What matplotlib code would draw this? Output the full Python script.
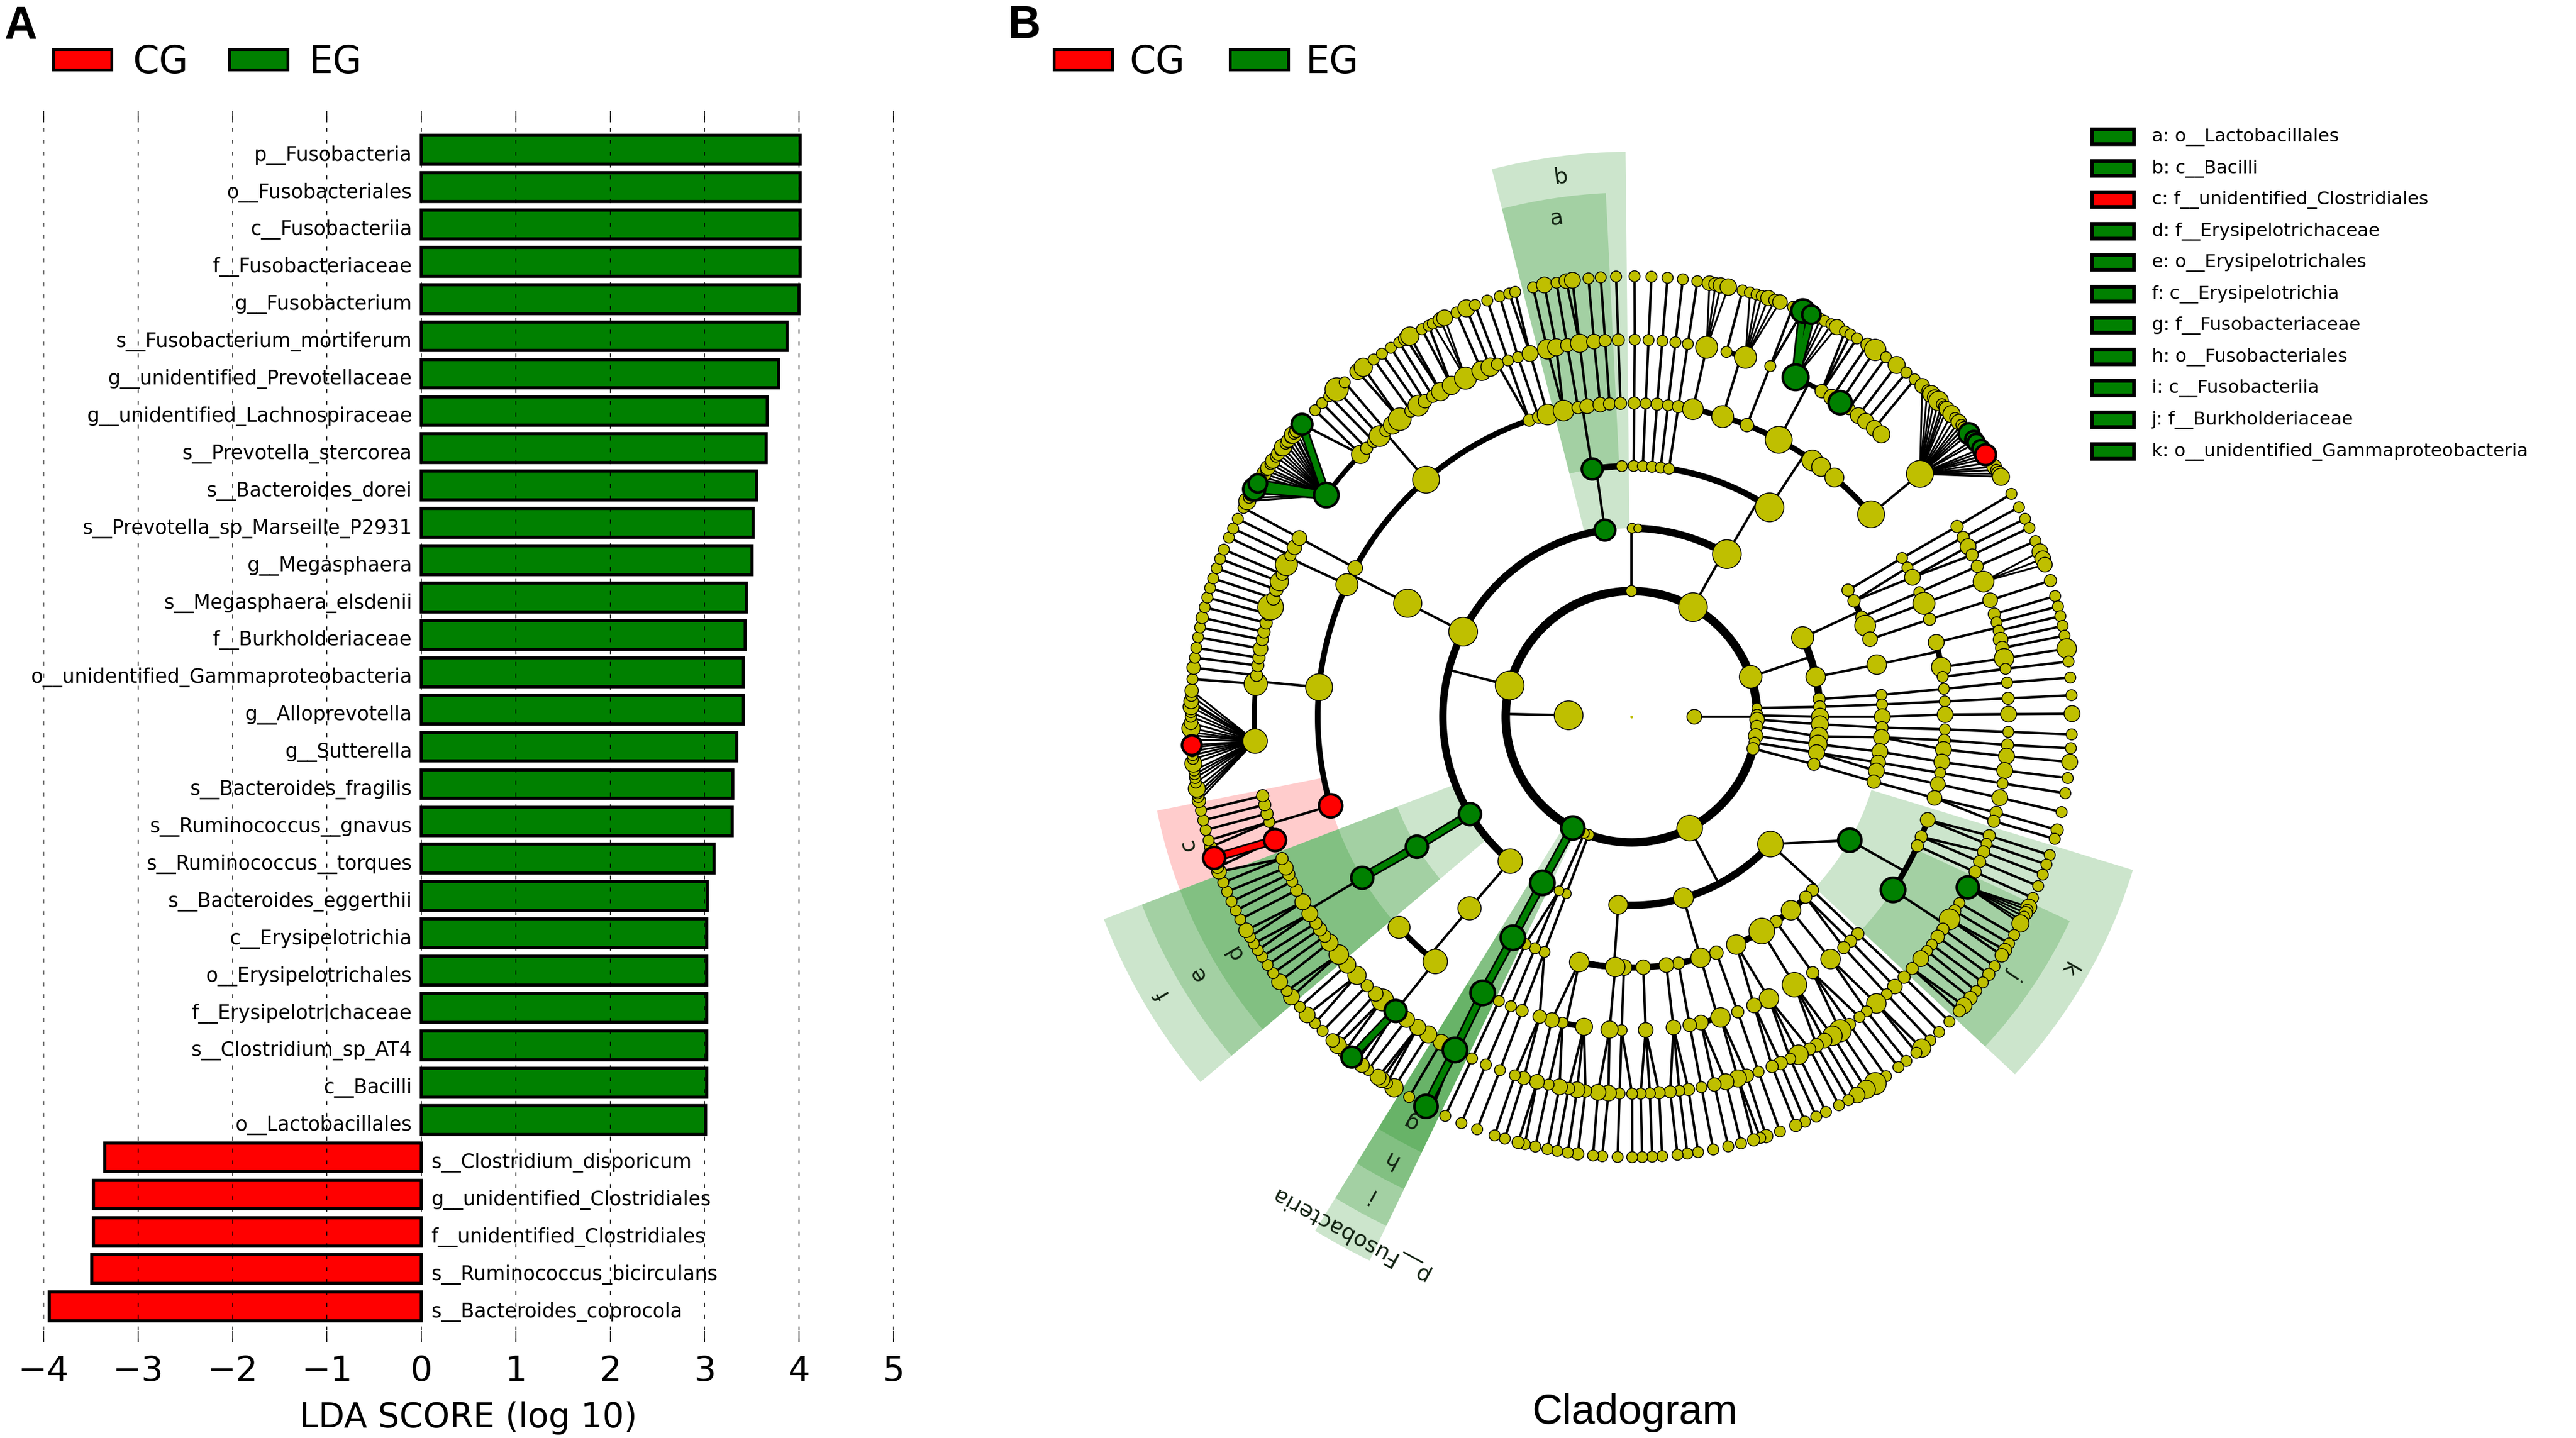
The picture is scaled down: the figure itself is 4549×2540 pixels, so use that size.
import numpy as np
import matplotlib
matplotlib.use("Agg")
import matplotlib.pyplot as plt
from matplotlib.patches import Wedge, Rectangle

W, H, DPI = 4549, 2540, 100
PX = 72 / DPI  # points per pixel

# ---------- panel A data ----------
TAXA_EG = ["p__Fusobacteria", "o__Fusobacteriales", "c__Fusobacteriia", "f__Fusobacteriaceae", "g__Fusobacterium",
           "s__Fusobacterium_mortiferum", "g__unidentified_Prevotellaceae", "g__unidentified_Lachnospiraceae",
           "s__Prevotella_stercorea", "s__Bacteroides_dorei", "s__Prevotella_sp_Marseille_P2931", "g__Megasphaera",
           "s__Megasphaera_elsdenii", "f__Burkholderiaceae", "o__unidentified_Gammaproteobacteria", "g__Alloprevotella",
           "g__Sutterella", "s__Bacteroides_fragilis", "s__Ruminococcus__gnavus", "s__Ruminococcus__torques",
           "s__Bacteroides_eggerthii", "c__Erysipelotrichia", "o__Erysipelotrichales", "f__Erysipelotrichaceae",
           "s__Clostridium_sp_AT4", "c__Bacilli", "o__Lactobacillales"]
LDA_EG = [4.01, 4.01, 4.01, 4.01, 4.00, 3.87, 3.78, 3.66, 3.65, 3.55, 3.51, 3.50, 3.44, 3.43, 3.41, 3.41,
          3.34, 3.30, 3.29, 3.10, 3.03, 3.02, 3.02, 3.02, 3.02, 3.02, 3.01]
TAXA_CG = ["s__Clostridium_disporicum", "g__unidentified_Clostridiales", "f__unidentified_Clostridiales",
           "s__Ruminococcus_bicirculans", "s__Bacteroides_coprocola"]
LDA_CG = [-3.35, -3.47, -3.47, -3.49, -3.94]
XTICKS = [-4, -3, -2, -1, 0, 1, 2, 3, 4, 5]

# ---------- panel B data: clockwise angle from the top; (angle, node size[, enriched group]) ----------
KINGDOM = [(90, 24), (271.3, 47)]
PHYLUM = [(0, 18), (29.3, 47), (71.5, 37), (86, 16), (89.4, 20), (91.3, 24), (94.4, 20), (98.8, 24), (101.9, 18),
          (104.7, 20), (152.4, 42), (200, 18), (202, 16), (208, 38, 'G'), (284.4, 47)]
CLASS = [(0.2, 16), (2, 14), (30.4, 47), (65.2, 36), (77.8, 32), (84.6, 20), (87, 20), (90, 28), (92.3, 28), (96, 30),
         (98.4, 30), (101, 26), (104.6, 20), (132.5, 42), (164, 33), (184, 31), (200.2, 16), (202.6, 16),
         (208.2, 40, 'G'), (220, 40), (238.9, 36, 'G'), (296.8, 47), (351.9, 34, 'G')]
ORDER = [(0.5, 18), (2.6, 18), (4.7, 18), (6.7, 18), (8.6, 18), (33.4, 47), (59.7, 20), (62.5, 20), (66.6, 20),
         (68.7, 34), (72, 24), (78, 32), (85, 18), (87.2, 18), (90, 26), (92.5, 20), (94.7, 26), (98, 26), (100.5, 24),
         (102.5, 26), (105, 22), (119.5, 38, 'G'), (133.8, 20), (136, 20), (140.5, 32), (144.8, 20), (148.7, 42),
         (155.3, 32), (160.2, 22), (164, 32), (169.2, 20), (172, 24), (177.3, 24), (181.7, 26), (183.7, 32), (192, 32),
         (200.3, 18), (202.6, 18), (205, 18), (208.2, 40, 'G'), (220.2, 38), (238.8, 36, 'G'), (296.9, 46),
         (351, 34, 'G'), (357.8, 18)]
FAMILY = [(0.5, 20), (2.6, 18), (4.7, 20), (6.7, 18), (8.6, 20), (11.3, 34), (16.9, 36), (21.6, 22), (28, 44),
          (35.2, 34), (37.2, 31), (40.3, 31), (49.8, 44), (59.6, 18), (61.6, 18), (63.6, 26), (66.6, 18), (68.8, 36),
          (71.9, 20), (76.3, 26), (80.9, 32), (82.7, 18), (84.9, 18), (87.2, 18), (89.6, 26), (92.3, 18), (94.3, 20),
          (96, 26), (98.3, 26), (100.3, 18), (102.4, 24), (105, 24), (109.2, 24), (112.5, 20), (114.3, 20),
          (123.5, 40, 'G'), (133.8, 20), (135.7, 20), (137.4, 20), (140.6, 32), (144.7, 20), (148.7, 40), (154, 32),
          (157, 24), (160.2, 20), (163.5, 32), (167.2, 24), (169.3, 22), (172.3, 24), (177.4, 24), (181.8, 18),
          (184, 28), (188.7, 28), (192.7, 18), (194.7, 24), (197, 22), (200.4, 20), (202.6, 18), (205, 18),
          (208.3, 40, 'G'), (218.7, 40), (227.8, 36), (239.1, 36, 'G'), (253.5, 38, 'R'), (275.4, 44), (294.9, 36),
          (298.3, 24), (319.1, 44), (341, 20), (342.8, 20), (344.5, 34), (347.5, 34), (350.2, 20), (351.9, 24),
          (354.3, 24), (356, 20), (358, 20)]
GENUS = [(0.5, 18), (2.6, 18), (4.7, 18), (6.7, 18), (8.6, 18), (11.5, 36), (14.6, 18), (17.6, 36), (21.6, 18),
         (25.8, 42, 'G'), (30.3, 22), (32.1, 26), (33.6, 38, 'G'), (35.2, 20), (37, 26), (38.4, 26), (40.1, 26),
         (41.5, 28), (49.9, 44), (59.7, 20), (61.6, 20), (63.2, 26), (64.6, 20), (66.5, 20), (69, 34), (72, 24),
         (74.2, 20), (75.5, 18), (76.8, 18), (78.2, 24), (79.5, 22), (81.1, 32), (82.7, 18), (84.8, 18), (87.2, 20),
         (89.6, 26), (92.3, 18), (94.3, 20), (96, 26), (98.2, 26), (100.2, 18), (102.4, 26), (104.7, 20), (106.1, 20),
         (108.4, 20), (109.7, 18), (111, 20), (112.6, 20), (114.3, 20), (116.9, 36, 'G'), (119.6, 18), (121, 20),
         (122.5, 34), (124.3, 20), (125.7, 22), (127.2, 18), (128.4, 18), (129.9, 26), (131.9, 20), (133.7, 20),
         (135.7, 24), (137.4, 18), (139.5, 32), (141.4, 18), (142.8, 18), (144.7, 20), (146.4, 36), (147.8, 32),
         (149.2, 24), (150.6, 22), (151.8, 20), (153.7, 32), (155.1, 18), (156.7, 22), (158.1, 20), (160.3, 18),
         (162.2, 22), (163.6, 28), (165.5, 26), (167.3, 22), (169.3, 18), (171.3, 20), (172.7, 18), (174.1, 20),
         (175.8, 20), (177.2, 18), (178.6, 18), (179.9, 18), (181.8, 18), (183.5, 26), (185.1, 26), (187, 20),
         (188.3, 26), (189.6, 20), (191, 26), (192.7, 18), (194.5, 24), (196.6, 22), (198, 18), (200.4, 18),
         (202.7, 18), (205, 18), (207.9, 40, 'G'), (210.3, 26), (212.6, 28), (214.5, 26), (216.6, 26),
         (218.7, 36, 'G'), (221.3, 36), (222.7, 24), (224.5, 20), (226.7, 30), (228.9, 28), (230.9, 32), (233.2, 28),
         (234.4, 20), (235.7, 22), (236.8, 20), (238.5, 26), (240.6, 26), (242.6, 20), (244.1, 18), (245.3, 20),
         (246.4, 24), (247.9, 20), (250.9, 36, 'R'), (253.8, 18), (255.1, 20), (256.5, 20), (257.9, 20), (266.3, 40),
         (275, 38), (276.3, 20), (277.8, 20), (279, 20), (280.4, 24), (281.8, 20), (283, 20), (284.4, 20), (285.8, 22),
         (286.9, 42), (288.3, 22), (289.7, 22), (291, 30), (292.2, 20), (293.8, 36), (295.3, 18), (296.7, 24),
         (298.3, 24), (306, 40, 'G'), (314.1, 30), (315.4, 20), (316.9, 20), (318.1, 34), (319.4, 20), (320.7, 30),
         (322.1, 37), (324.2, 20), (325.6, 34), (326.8, 22), (328.2, 20), (329.6, 30), (331.5, 30), (333.9, 36),
         (336.6, 32), (338, 30), (339.2, 20), (340.9, 18), (342.5, 18), (344.4, 26), (347.1, 32), (348.5, 28),
         (350.2, 22), (352.1, 30), (354.3, 24), (356, 20), (358, 20)]
SPECIES = [0.4, 2.6, 4.7, 6.7, 8.6, (10.2, 24), (11, 22), (11.7, 25), (12.7, 27), 14.6, 15.6, 16.5, 17.2, (18.1, 25),
           (19, 20), (19.7, 24), 21.5, 25.4, 26, 27, (27.8, 25), 29, 29.8, 30.8, (32.4, 22), (33.6, 35), 35.3, (37, 28),
           38.6, 40, (41.3, 24), 42.2, (42.9, 28), (43.5, 24), (44.2, 32), 44.8, 45.2, (45.7, 25), (46.6, 28), 47.3,
           (48, 25), 48.5, (49, 20), 49.5, 53, 54, 54.7, (55.4, 24), 55.9, (56.5, 24), (57, 28), 59.6, 61.6, 63.3, 64.6,
           66.5, (68, 26), (69, 26), (69.8, 24), (72, 20),
           74.1, 75.5, 76.8, 78.1, 79.4, (81.1, 32), 82.8, 84.9, 87.2, (89.6, 26), 92.3, 94.1, (95.9, 26), 98, 100,
           102.5, (104.9, 20), 106.1, 108.3, 109.6, 111, 112.6, 114.3, (115.6, 26), 116, (116.5, 22), 117, 117.6,
           (118, 28), 119.7, 121, (122, 22), (122.8, 22), 124.5, (125.8, 20), 127.1, 128.5, (129.7, 22), (131, 26),
           (131.9, 20), 133.8, 135.7, 137.3, (138.8, 30), 139.7, 141.4, 142.7, 144.7, (146.4, 36), (147.8, 30),
           (149.2, 26), 150.5, 151.9, 153.8, 155.2, 156.8, (158.1, 20), 160.3, (162.2, 22), 163, (163.9, 20), 165.6,
           167.3, 169.3, 171.3,
           172.7, 174, 176, 177.3, 178.6, 179.9, 181.8, 183.8, 185, (187, 20), 188.3, 189.7, 191, 192.6, 194,
           (194.9, 20), 196.7, 198.1, 200.5, 202.7, 205, 206.9, 210.3, (212.6, 30), 213.7, (214.5, 26), (215.1, 26),
           216.7, (217.7, 24), 218.6, (220.6, 24), (221.8, 28), (222.7, 22), 224.5, 225.9, (227.4, 26), 228.8,
           (230.5, 26), 231.5, (233, 26), 234.4, 235.7, 237, 238, 239, 240, (241, 24), 242.6, 243.9, 245.2, 246.6,
           247.9, (249.4, 24), (250, 20), (252.8, 20), 253.7, 255.1, 256.4, 257.7, (259, 22), 259.5, 260, (260.6, 28),
           261.4, 262, 262.5, 263, (263.9, 28), 264.5, 265, 265.5, 266, (267, 22), 267.6, 268, (268.5, 30), (269.2, 22),
           270, 270.6, (271.3, 26), 271.8, (272, 24), 272.7, (273.4, 22), 274.9,
           (276.4, 22), 277.7, 279, 280.4, 281.7, (283, 20), 284.4, 285.7, 287, 288.3, 289.7, 291, 292.3, 294, 295.3,
           296.7, 298.3, (299.3, 28), 299.8, (300.5, 26), 300.9, 303, (303.5, 24), 304, (304.4, 24), 305, (305.5, 24),
           306.2, (306.7, 22), 307.2, (307.7, 28), 308.3, (308.8, 22), 309.3, (309.8, 28), 310, (310.5, 22), 314.1,
           315.4, 316.7, (318, 38), 319.4, (321.6, 26), (322.5, 30),
           324.2, 325.5, 326.9, 328.2, (329.2, 24), (329.8, 30), 331.6, 332.6, 333.2, (334.3, 24), (334.9, 26), 336.6,
           (338, 28), 339.2, 340.9, 342.6, 343.9, 344.7, 347.1, (348.6, 26), 350.2, (351.5, 24), (352.3, 26), 354.4,
           356, 358, (22.9, 38, 'G'), (24.1, 30, 'G'), (50, 34, 'G'), (51, 28, 'G'), (51.5, 28, 'G'), (52.5, 28, 'G'),
           (53.5, 34, 'R'), (207.8, 38, 'G'), (219.4, 34, 'G'), (251.3, 36, 'R'), (266.3, 32, 'R'), (301.1, 36, 'G'),
           (302, 30, 'G'), (311.6, 34, 'G')]

# (level, from angle, to angle, parent angle on the level inside)
BRANCH_ARCS = [(2, 0, 208, 90), (2, 208, 360, 271.3), (3, 220, 351.9, 284.4), (3, 0.2, 2, 0), (3, 2, 30.4, 29.3),
               (3, 65.2, 84.6, 71.5), (3, 132.5, 184, 152.4), (4, 59.7, 72, 65.2), (4, 133.8, 155.3, 132.5),
               (4, 160.2, 192, 164), (4, 181.7, 192, 184), (4, 351, 357.8, 351.9), (4, 0.5, 33.4, 30.4),
               (5, 11.3, 49.8, 33.4), (5, 76.3, 82.7, 78), (5, 163.5, 167.2, 164), (5, 188.7, 192.7, 192),
               (5, 218.7, 227.8, 220.2), (5, 253.5, 341, 296.9), (5, 341, 358, 351), (5, 109.2, 123.5, 119.5),
               (6, 14.6, 17.6, 16.9), (6, 25.8, 41.5, 28), (6, 74.2, 79.5, 76.3), (6, 116.9, 131.9, 123.5),
               (6, 210.3, 226.7, 218.7), (6, 228.9, 247.9, 239.1), (6, 250.9, 257.9, 253.5),
               (6, 266.3, 296.7, 275.4), (6, 293.8, 296.7, 294.9), (6, 306, 338, 319.1)]
# (genus angle, first species angle, last species angle)
SPECIES_FANS = [(11.5, 10.2, 12.7), (17.6, 15.6, 19.7), (25.8, 25.4, 28), (49.9, 41.3, 57), (69, 68, 69.8),
                (116.9, 115.6, 118), (266.3, 259, 273.4), (306, 299.3, 310.5), (333.9, 333.2, 334.9)]
# (level and angle of the parent, level and angle of the child)
ENRICHED_EDGES = [((2, 208), (3, 208.2), 'G'), ((3, 208.2), (4, 208.2), 'G'), ((4, 208.2), (5, 208.3), 'G'),
                  ((5, 208.3), (6, 207.9), 'G'), ((6, 207.9), (7, 207.8), 'G'), ((3, 238.9), (4, 238.8), 'G'),
                  ((4, 238.8), (5, 239.1), 'G'), ((6, 218.7), (7, 219.4), 'G'), ((6, 25.8), (7, 22.9), 'G'),
                  ((6, 25.8), (7, 24.1), 'G'), ((6, 306), (7, 301.1), 'G'), ((6, 306), (7, 302), 'G'),
                  ((6, 306), (7, 311.6), 'G'), ((6, 250.9), (7, 251.3), 'R')]
# (text on the shading, first angle, last angle, level, group)
CLADE_LABELS = [("a", 345.7, 357.2, 4, 'G'), ("b", 345.7, 359.4, 3, 'G'), ("c", 249, 258.8, 5, 'R'),
                ("d", 229.7, 249, 5, 'G'), ("e", 229.7, 249, 4, 'G'), ("f", 229.7, 249, 3, 'G'),
                ("g", 205.7, 211.6, 5, 'G'), ("h", 205.7, 211.6, 4, 'G'), ("i", 205.7, 211.6, 3, 'G'),
                ("p__Fusobacteria", 205.7, 211.6, 2, 'G'), ("j", 115, 133, 5, 'G'), ("k", 107, 133, 4, 'G')]
CLADE_KEY = [("a: o__Lactobacillales", 'G'), ("b: c__Bacilli", 'G'), ("c: f__unidentified_Clostridiales", 'R'),
             ("d: f__Erysipelotrichaceae", 'G'), ("e: o__Erysipelotrichales", 'G'), ("f: c__Erysipelotrichia", 'G'),
             ("g: f__Fusobacteriaceae", 'G'), ("h: o__Fusobacteriales", 'G'), ("i: c__Fusobacteriia", 'G'),
             ("j: f__Burkholderiaceae", 'G'), ("k: o__unidentified_Gammaproteobacteria", 'G')]
GROUPS = [("CG", 'R'), ("EG", 'G')]

# ---------- styles ----------
COL = {'G': '#008000', 'R': '#ff0000', None: '#bfbf00'}
RING = {1: 111, 2: 222, 3: 333, 4: 443, 5: 554, 6: 666, 7: 778}
SHADE_OUTER = {2: 1066, 3: 998, 4: 926, 5: 854}
LABEL_R = {2: 1041, 3: 962, 4: 890, 5: 815}
ARC_PX = {2: 15, 3: 13, 4: 11, 5: 10, 6: 8.5}
THIN_PX = 4.3
FAN_PX = 3.2
NODE_SCALE = 1.08
CX, CY, HALF = 2881, 1266, 1120

fig = plt.figure(figsize=(W / DPI, H / DPI), dpi=DPI, facecolor='white')

# ---------- panel A ----------
ax = fig.add_axes([77 / W, 1 - 2371 / H, 1501 / W, 2175 / H])
labels = TAXA_EG + TAXA_CG
vals = LDA_EG + LDA_CG
ypos = np.arange(len(vals))
ax.barh(ypos, vals, height=0.77, color=[COL['G'] if v > 0 else COL['R'] for v in vals],
        edgecolor='black', linewidth=5.5 * PX, zorder=1)
for y, v, t in zip(ypos, vals, labels):
    ax.text(-0.1 if v > 0 else 0.1, y + 0.29, t, ha='right' if v > 0 else 'left', va='baseline',
            fontsize=25, zorder=5)
ax.set_xlim(-4, 5)
ax.set_ylim(31.96, -1.04)
ax.set_xticks(XTICKS)
ax.set_yticks([])
ax.tick_params(axis='x', direction='in', top=True, bottom=True, length=20 * PX, width=1.6 * PX, labelsize=44, pad=15.5)
ax.xaxis.grid(True, color='black', linewidth=1.6 * PX, linestyle=(0, (4.4, 8.7)), zorder=3)
ax.set_axisbelow(False)
for s in ax.spines.values():
    s.set_visible(False)
ax.set_xlabel("LDA SCORE (log 10)", fontsize=43, labelpad=17)


# ---------- panel B ----------
def nodes(rows):
    out = []
    for r in rows:
        if isinstance(r, tuple):
            out.append((r[0], r[1], r[2] if len(r) > 2 else None))
        else:
            out.append((r, 18, None))
    return out


LEVELS = {1: nodes(KINGDOM), 2: nodes(PHYLUM), 3: nodes(CLASS), 4: nodes(ORDER), 5: nodes(FAMILY), 6: nodes(GENUS),
          7: nodes(SPECIES)}


def xy(level, ang):
    t = np.radians(ang)
    return RING[level] * np.sin(t), RING[level] * np.cos(t)


def cdiff(a, b):
    return abs((a - b + 180) % 360 - 180)


bx = fig.add_axes([(CX - HALF) / W, 1 - (CY + HALF) / H, 2 * HALF / W, 2 * HALF / H])
bx.set_xlim(-HALF, HALF)
bx.set_ylim(-HALF, HALF)
bx.axis('off')

for text, lo, hi, lev, grp in CLADE_LABELS:
    bx.add_patch(Wedge((0, 0), SHADE_OUTER[lev], 90 - hi, 90 - lo, width=SHADE_OUTER[lev] - RING[lev],
                       facecolor=COL[grp], alpha=0.2, edgecolor='none', zorder=1))
    mid = (lo + hi) / 2
    t = np.radians(mid)
    bx.text(LABEL_R[lev] * np.sin(t), LABEL_R[lev] * np.cos(t), text, rotation=-mid, rotation_mode='anchor',
            ha='center', va='center', fontsize=28, color='#102010', zorder=8)


def seg(p, q, px, col='black', z=2):
    bx.plot([p[0], q[0]], [p[1], q[1]], color=col, lw=px * PX, solid_capstyle='butt', zorder=z)


# arcs on the rings and the thin branch from their parent
for lev, a0, a1, parent in BRANCH_ARCS:
    th = np.radians(np.linspace(a0, a1, 200))
    bx.plot(RING[lev] * np.sin(th), RING[lev] * np.cos(th), color='black', lw=ARC_PX[lev] * PX,
            solid_capstyle='butt', zorder=2)
    seg(xy(lev - 1, parent), xy(lev, parent), THIN_PX)

# thin branches of every node not sitting on an arc
for lev in range(3, 7):
    inner = [n[0] for n in LEVELS[lev - 1]]
    arcs = [a for a in BRANCH_ARCS if a[0] == lev]
    for ang, _, _ in LEVELS[lev]:
        if any(a[1] <= ang <= a[2] for a in arcs):
            continue
        par = min(inner, key=lambda p: cdiff(p, ang))
        seg(xy(lev - 1, par), xy(lev, ang), THIN_PX)

genus_ang = [n[0] for n in LEVELS[6]]
for ang, _, _ in LEVELS[7]:
    fan = [f for f in SPECIES_FANS if f[1] <= ang <= f[2]]
    if fan:
        seg(xy(6, fan[0][0]), xy(7, ang), FAN_PX)
    else:
        par = min(genus_ang, key=lambda p: cdiff(p, ang))
        seg(xy(6, par), xy(7, ang), THIN_PX)

for p, q, grp in ENRICHED_EDGES:
    seg(xy(*p), xy(*q), 16, 'black', 3)
    seg(xy(*p), xy(*q), 10, COL[grp], 3.1)

for lev, rows in LEVELS.items():
    for enriched in (False, True):
        sel = [n for n in rows if (n[2] is not None) == enriched]
        if not sel:
            continue
        px_, py_ = xy(lev, np.array([n[0] for n in sel]))
        bx.scatter(px_, py_, s=[(n[1] * NODE_SCALE * PX) ** 2 for n in sel], c=[COL[n[2]] for n in sel],
                   edgecolors='black', linewidths=(4.5 if enriched else 1.6) * PX, zorder=5 if enriched else 4)
bx.scatter([0], [0], s=(5 * PX) ** 2, c=COL[None], linewidths=0, zorder=4)

# ---------- page furniture ----------
pg = fig.add_axes([0, 0, 1, 1], zorder=10)
pg.set_xlim(0, W)
pg.set_ylim(H, 0)
pg.axis('off')
pg.patch.set_alpha(0)
pg.text(8, 67, "A", fontsize=58, fontweight='bold', family='Liberation Sans', va='baseline')
pg.text(1780, 67, "B", fontsize=58, fontweight='bold', family='Liberation Sans', va='baseline')


def group_key(x0s, tx0s):
    for (name, grp), x0, tx in zip(GROUPS, x0s, tx0s):
        pg.add_patch(Rectangle((x0, 87), 103, 36, facecolor=COL[grp], edgecolor='black', linewidth=5 * PX))
        pg.text(tx, 110, name, fontsize=48, va='center', ha='left')


group_key([94, 405], [234, 546])
group_key([1861, 2172], [1994, 2306])
for i, (t, grp) in enumerate(CLADE_KEY):
    yc = 241 + i * 55.55
    pg.add_patch(Rectangle((3694, yc - 13), 74, 26, facecolor=COL[grp], edgecolor='black', linewidth=6.5 * PX))
    pg.text(3800, yc + 1, t, fontsize=23.2, va='center', ha='left')
pg.text(2887, 2496, "Cladogram", fontsize=53.5, family='Liberation Sans', ha='center', va='center')

fig.savefig("out.png", dpi=DPI)
